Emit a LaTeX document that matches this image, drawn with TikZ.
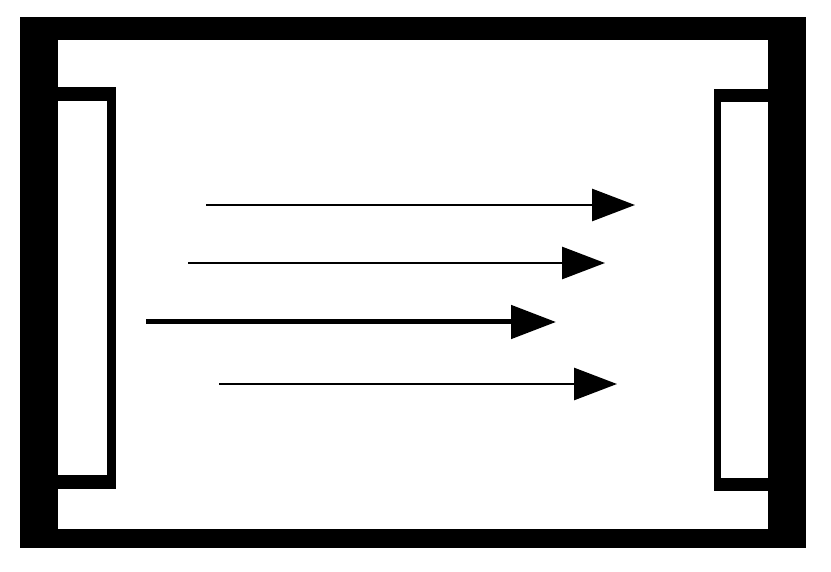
\documentclass[tikz,border=0pt]{standalone}
\usetikzlibrary{arrows.meta}
\begin{document}
\begin{tikzpicture}[x=1pt,y=-1pt,
  flow/.style={line width=2.8pt,-{Triangle[length=43pt,width=32pt]}},
  flowthick/.style={line width=5pt,-{Triangle[length=45pt,width=33pt]}}]
\useasboundingbox (0,0) rectangle (831,572);
% outer frame
\fill[black] (20,17) rectangle (806,548);
\fill[white] (58,40) rectangle (768,529);
% left plate
\fill[black] (58,87) rectangle (116,489);
\fill[white] (58,101) rectangle (107,475);
% right plate
\fill[black] (714,89) rectangle (768,491);
\fill[white] (721,102) rectangle (768,478);
% arrow end points
\coordinate (a1s) at (206,205);
\coordinate (a1e) at (635,205);
\coordinate (a2s) at (188,263);
\coordinate (a2e) at (605,263);
\coordinate (a3s) at (146,322);
\coordinate (a3e) at (556,322);
\coordinate (a4s) at (219,384);
\coordinate (a4e) at (617,384);
\draw[flow] (a1s) -- (a1e);
\draw[flow] (a2s) -- (a2e);
\draw[flowthick] (a3s) -- (a3e);
\draw[flow] (a4s) -- (a4e);
\end{tikzpicture}
\end{document}
